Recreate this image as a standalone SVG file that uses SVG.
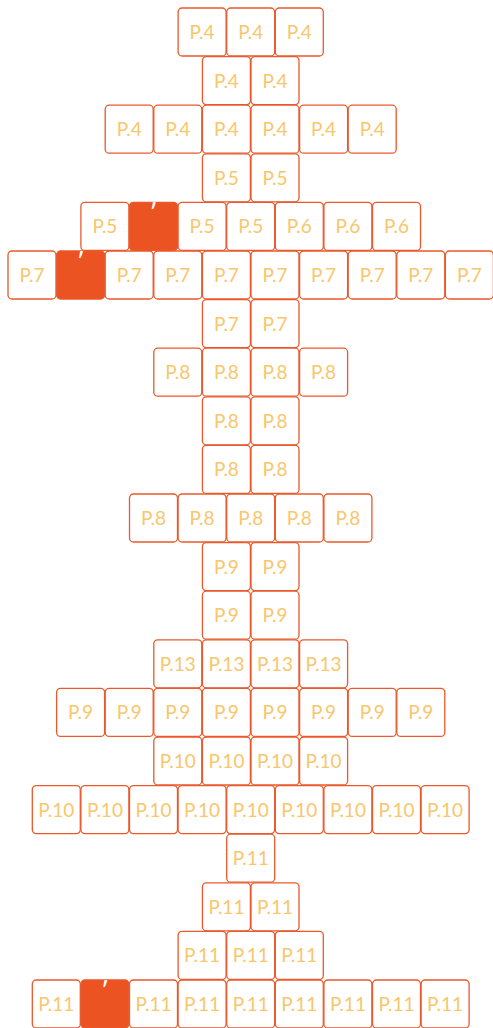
<svg xmlns="http://www.w3.org/2000/svg" width="493" height="1028" viewBox="0 0 493 1028">
<style>
rect.b{fill:#ffffff;stroke:#E9592B;stroke-width:1.3}
rect.f{fill:#EB5322;stroke:#E9592B;stroke-width:1.3}
text.t{font-family:Lato,"Liberation Sans",sans-serif;font-size:19px;fill:#F9C66C;text-anchor:middle}
text.k{font-family:Lato,"Liberation Sans",sans-serif;font-size:20px;font-weight:bold;fill:#ffffff;text-anchor:middle}
</style>
<rect width="493" height="1028" fill="#ffffff"/>
<g id="nodes">
<!-- row 0 -->
<g id="r0c0" transform="translate(178.1,8)"><rect class="b" width="48" height="48" rx="4"/><text class="t" x="24" y="31">P.4</text></g>
<g id="r0c1" transform="translate(226.7,8)"><rect class="b" width="48" height="48" rx="4"/><text class="t" x="24" y="31">P.4</text></g>
<g id="r0c2" transform="translate(275.3,8)"><rect class="b" width="48" height="48" rx="4"/><text class="t" x="24" y="31">P.4</text></g>
<!-- row 1 -->
<g id="r1c0" transform="translate(202.4,56.6)"><rect class="b" width="48" height="48" rx="4"/><text class="t" x="24" y="31">P.4</text></g>
<g id="r1c1" transform="translate(251,56.6)"><rect class="b" width="48" height="48" rx="4"/><text class="t" x="24" y="31">P.4</text></g>
<!-- row 2 -->
<g id="r2c0" transform="translate(105.2,105.2)"><rect class="b" width="48" height="48" rx="4"/><text class="t" x="24" y="31">P.4</text></g>
<g id="r2c1" transform="translate(153.8,105.2)"><rect class="b" width="48" height="48" rx="4"/><text class="t" x="24" y="31">P.4</text></g>
<g id="r2c2" transform="translate(202.4,105.2)"><rect class="b" width="48" height="48" rx="4"/><text class="t" x="24" y="31">P.4</text></g>
<g id="r2c3" transform="translate(251,105.2)"><rect class="b" width="48" height="48" rx="4"/><text class="t" x="24" y="31">P.4</text></g>
<g id="r2c4" transform="translate(299.6,105.2)"><rect class="b" width="48" height="48" rx="4"/><text class="t" x="24" y="31">P.4</text></g>
<g id="r2c5" transform="translate(348.2,105.2)"><rect class="b" width="48" height="48" rx="4"/><text class="t" x="24" y="31">P.4</text></g>
<!-- row 3 -->
<g id="r3c0" transform="translate(202.4,153.8)"><rect class="b" width="48" height="48" rx="4"/><text class="t" x="24" y="31">P.5</text></g>
<g id="r3c1" transform="translate(251,153.8)"><rect class="b" width="48" height="48" rx="4"/><text class="t" x="24" y="31">P.5</text></g>
<!-- row 4 -->
<g id="r4c0" transform="translate(80.9,202.4)"><rect class="b" width="48" height="48" rx="4"/><text class="t" x="24" y="31">P.5</text></g>
<g id="r4c1" transform="translate(129.5,202.4)"><rect class="f" width="48" height="48" rx="4"/><text class="k" x="24" y="17">′</text></g>
<g id="r4c2" transform="translate(178.1,202.4)"><rect class="b" width="48" height="48" rx="4"/><text class="t" x="24" y="31">P.5</text></g>
<g id="r4c3" transform="translate(226.7,202.4)"><rect class="b" width="48" height="48" rx="4"/><text class="t" x="24" y="31">P.5</text></g>
<g id="r4c4" transform="translate(275.3,202.4)"><rect class="b" width="48" height="48" rx="4"/><text class="t" x="24" y="31">P.6</text></g>
<g id="r4c5" transform="translate(323.9,202.4)"><rect class="b" width="48" height="48" rx="4"/><text class="t" x="24" y="31">P.6</text></g>
<g id="r4c6" transform="translate(372.5,202.4)"><rect class="b" width="48" height="48" rx="4"/><text class="t" x="24" y="31">P.6</text></g>
<!-- row 5 -->
<g id="r5c0" transform="translate(8,251)"><rect class="b" width="48" height="48" rx="4"/><text class="t" x="24" y="31">P.7</text></g>
<g id="r5c1" transform="translate(56.6,251)"><rect class="f" width="48" height="48" rx="4"/><text class="k" x="24" y="17">′</text></g>
<g id="r5c2" transform="translate(105.2,251)"><rect class="b" width="48" height="48" rx="4"/><text class="t" x="24" y="31">P.7</text></g>
<g id="r5c3" transform="translate(153.8,251)"><rect class="b" width="48" height="48" rx="4"/><text class="t" x="24" y="31">P.7</text></g>
<g id="r5c4" transform="translate(202.4,251)"><rect class="b" width="48" height="48" rx="4"/><text class="t" x="24" y="31">P.7</text></g>
<g id="r5c5" transform="translate(251,251)"><rect class="b" width="48" height="48" rx="4"/><text class="t" x="24" y="31">P.7</text></g>
<g id="r5c6" transform="translate(299.6,251)"><rect class="b" width="48" height="48" rx="4"/><text class="t" x="24" y="31">P.7</text></g>
<g id="r5c7" transform="translate(348.2,251)"><rect class="b" width="48" height="48" rx="4"/><text class="t" x="24" y="31">P.7</text></g>
<g id="r5c8" transform="translate(396.8,251)"><rect class="b" width="48" height="48" rx="4"/><text class="t" x="24" y="31">P.7</text></g>
<g id="r5c9" transform="translate(445.4,251)"><rect class="b" width="48" height="48" rx="4"/><text class="t" x="24" y="31">P.7</text></g>
<!-- row 6 -->
<g id="r6c0" transform="translate(202.4,299.6)"><rect class="b" width="48" height="48" rx="4"/><text class="t" x="24" y="31">P.7</text></g>
<g id="r6c1" transform="translate(251,299.6)"><rect class="b" width="48" height="48" rx="4"/><text class="t" x="24" y="31">P.7</text></g>
<!-- row 7 -->
<g id="r7c0" transform="translate(153.8,348.2)"><rect class="b" width="48" height="48" rx="4"/><text class="t" x="24" y="31">P.8</text></g>
<g id="r7c1" transform="translate(202.4,348.2)"><rect class="b" width="48" height="48" rx="4"/><text class="t" x="24" y="31">P.8</text></g>
<g id="r7c2" transform="translate(251,348.2)"><rect class="b" width="48" height="48" rx="4"/><text class="t" x="24" y="31">P.8</text></g>
<g id="r7c3" transform="translate(299.6,348.2)"><rect class="b" width="48" height="48" rx="4"/><text class="t" x="24" y="31">P.8</text></g>
<!-- row 8 -->
<g id="r8c0" transform="translate(202.4,396.8)"><rect class="b" width="48" height="48" rx="4"/><text class="t" x="24" y="31">P.8</text></g>
<g id="r8c1" transform="translate(251,396.8)"><rect class="b" width="48" height="48" rx="4"/><text class="t" x="24" y="31">P.8</text></g>
<!-- row 9 -->
<g id="r9c0" transform="translate(202.4,445.4)"><rect class="b" width="48" height="48" rx="4"/><text class="t" x="24" y="31">P.8</text></g>
<g id="r9c1" transform="translate(251,445.4)"><rect class="b" width="48" height="48" rx="4"/><text class="t" x="24" y="31">P.8</text></g>
<!-- row 10 -->
<g id="r10c0" transform="translate(129.5,494)"><rect class="b" width="48" height="48" rx="4"/><text class="t" x="24" y="31">P.8</text></g>
<g id="r10c1" transform="translate(178.1,494)"><rect class="b" width="48" height="48" rx="4"/><text class="t" x="24" y="31">P.8</text></g>
<g id="r10c2" transform="translate(226.7,494)"><rect class="b" width="48" height="48" rx="4"/><text class="t" x="24" y="31">P.8</text></g>
<g id="r10c3" transform="translate(275.3,494)"><rect class="b" width="48" height="48" rx="4"/><text class="t" x="24" y="31">P.8</text></g>
<g id="r10c4" transform="translate(323.9,494)"><rect class="b" width="48" height="48" rx="4"/><text class="t" x="24" y="31">P.8</text></g>
<!-- row 11 -->
<g id="r11c0" transform="translate(202.4,542.6)"><rect class="b" width="48" height="48" rx="4"/><text class="t" x="24" y="31">P.9</text></g>
<g id="r11c1" transform="translate(251,542.6)"><rect class="b" width="48" height="48" rx="4"/><text class="t" x="24" y="31">P.9</text></g>
<!-- row 12 -->
<g id="r12c0" transform="translate(202.4,591.2)"><rect class="b" width="48" height="48" rx="4"/><text class="t" x="24" y="31">P.9</text></g>
<g id="r12c1" transform="translate(251,591.2)"><rect class="b" width="48" height="48" rx="4"/><text class="t" x="24" y="31">P.9</text></g>
<!-- row 13 -->
<g id="r13c0" transform="translate(153.8,639.8)"><rect class="b" width="48" height="48" rx="4"/><text class="t" x="24" y="31">P.13</text></g>
<g id="r13c1" transform="translate(202.4,639.8)"><rect class="b" width="48" height="48" rx="4"/><text class="t" x="24" y="31">P.13</text></g>
<g id="r13c2" transform="translate(251,639.8)"><rect class="b" width="48" height="48" rx="4"/><text class="t" x="24" y="31">P.13</text></g>
<g id="r13c3" transform="translate(299.6,639.8)"><rect class="b" width="48" height="48" rx="4"/><text class="t" x="24" y="31">P.13</text></g>
<!-- row 14 -->
<g id="r14c0" transform="translate(56.6,688.4)"><rect class="b" width="48" height="48" rx="4"/><text class="t" x="24" y="31">P.9</text></g>
<g id="r14c1" transform="translate(105.2,688.4)"><rect class="b" width="48" height="48" rx="4"/><text class="t" x="24" y="31">P.9</text></g>
<g id="r14c2" transform="translate(153.8,688.4)"><rect class="b" width="48" height="48" rx="4"/><text class="t" x="24" y="31">P.9</text></g>
<g id="r14c3" transform="translate(202.4,688.4)"><rect class="b" width="48" height="48" rx="4"/><text class="t" x="24" y="31">P.9</text></g>
<g id="r14c4" transform="translate(251,688.4)"><rect class="b" width="48" height="48" rx="4"/><text class="t" x="24" y="31">P.9</text></g>
<g id="r14c5" transform="translate(299.6,688.4)"><rect class="b" width="48" height="48" rx="4"/><text class="t" x="24" y="31">P.9</text></g>
<g id="r14c6" transform="translate(348.2,688.4)"><rect class="b" width="48" height="48" rx="4"/><text class="t" x="24" y="31">P.9</text></g>
<g id="r14c7" transform="translate(396.8,688.4)"><rect class="b" width="48" height="48" rx="4"/><text class="t" x="24" y="31">P.9</text></g>
<!-- row 15 -->
<g id="r15c0" transform="translate(153.8,737)"><rect class="b" width="48" height="48" rx="4"/><text class="t" x="24" y="31">P.10</text></g>
<g id="r15c1" transform="translate(202.4,737)"><rect class="b" width="48" height="48" rx="4"/><text class="t" x="24" y="31">P.10</text></g>
<g id="r15c2" transform="translate(251,737)"><rect class="b" width="48" height="48" rx="4"/><text class="t" x="24" y="31">P.10</text></g>
<g id="r15c3" transform="translate(299.6,737)"><rect class="b" width="48" height="48" rx="4"/><text class="t" x="24" y="31">P.10</text></g>
<!-- row 16 -->
<g id="r16c0" transform="translate(32.3,785.6)"><rect class="b" width="48" height="48" rx="4"/><text class="t" x="24" y="31">P.10</text></g>
<g id="r16c1" transform="translate(80.9,785.6)"><rect class="b" width="48" height="48" rx="4"/><text class="t" x="24" y="31">P.10</text></g>
<g id="r16c2" transform="translate(129.5,785.6)"><rect class="b" width="48" height="48" rx="4"/><text class="t" x="24" y="31">P.10</text></g>
<g id="r16c3" transform="translate(178.1,785.6)"><rect class="b" width="48" height="48" rx="4"/><text class="t" x="24" y="31">P.10</text></g>
<g id="r16c4" transform="translate(226.7,785.6)"><rect class="b" width="48" height="48" rx="4"/><text class="t" x="24" y="31">P.10</text></g>
<g id="r16c5" transform="translate(275.3,785.6)"><rect class="b" width="48" height="48" rx="4"/><text class="t" x="24" y="31">P.10</text></g>
<g id="r16c6" transform="translate(323.9,785.6)"><rect class="b" width="48" height="48" rx="4"/><text class="t" x="24" y="31">P.10</text></g>
<g id="r16c7" transform="translate(372.5,785.6)"><rect class="b" width="48" height="48" rx="4"/><text class="t" x="24" y="31">P.10</text></g>
<g id="r16c8" transform="translate(421.1,785.6)"><rect class="b" width="48" height="48" rx="4"/><text class="t" x="24" y="31">P.10</text></g>
<!-- row 17 -->
<g id="r17c0" transform="translate(226.7,834.2)"><rect class="b" width="48" height="48" rx="4"/><text class="t" x="24" y="31">P.11</text></g>
<!-- row 18 -->
<g id="r18c0" transform="translate(202.4,882.8)"><rect class="b" width="48" height="48" rx="4"/><text class="t" x="24" y="31">P.11</text></g>
<g id="r18c1" transform="translate(251,882.8)"><rect class="b" width="48" height="48" rx="4"/><text class="t" x="24" y="31">P.11</text></g>
<!-- row 19 -->
<g id="r19c0" transform="translate(178.1,931.4)"><rect class="b" width="48" height="48" rx="4"/><text class="t" x="24" y="31">P.11</text></g>
<g id="r19c1" transform="translate(226.7,931.4)"><rect class="b" width="48" height="48" rx="4"/><text class="t" x="24" y="31">P.11</text></g>
<g id="r19c2" transform="translate(275.3,931.4)"><rect class="b" width="48" height="48" rx="4"/><text class="t" x="24" y="31">P.11</text></g>
<!-- row 20 -->
<g id="r20c0" transform="translate(32.3,980)"><rect class="b" width="48" height="48" rx="4"/><text class="t" x="24" y="31">P.11</text></g>
<g id="r20c1" transform="translate(80.9,980)"><rect class="f" width="48" height="48" rx="4"/><text class="k" x="24" y="17">′</text></g>
<g id="r20c2" transform="translate(129.5,980)"><rect class="b" width="48" height="48" rx="4"/><text class="t" x="24" y="31">P.11</text></g>
<g id="r20c3" transform="translate(178.1,980)"><rect class="b" width="48" height="48" rx="4"/><text class="t" x="24" y="31">P.11</text></g>
<g id="r20c4" transform="translate(226.7,980)"><rect class="b" width="48" height="48" rx="4"/><text class="t" x="24" y="31">P.11</text></g>
<g id="r20c5" transform="translate(275.3,980)"><rect class="b" width="48" height="48" rx="4"/><text class="t" x="24" y="31">P.11</text></g>
<g id="r20c6" transform="translate(323.9,980)"><rect class="b" width="48" height="48" rx="4"/><text class="t" x="24" y="31">P.11</text></g>
<g id="r20c7" transform="translate(372.5,980)"><rect class="b" width="48" height="48" rx="4"/><text class="t" x="24" y="31">P.11</text></g>
<g id="r20c8" transform="translate(421.1,980)"><rect class="b" width="48" height="48" rx="4"/><text class="t" x="24" y="31">P.11</text></g>
</g>
</svg>
